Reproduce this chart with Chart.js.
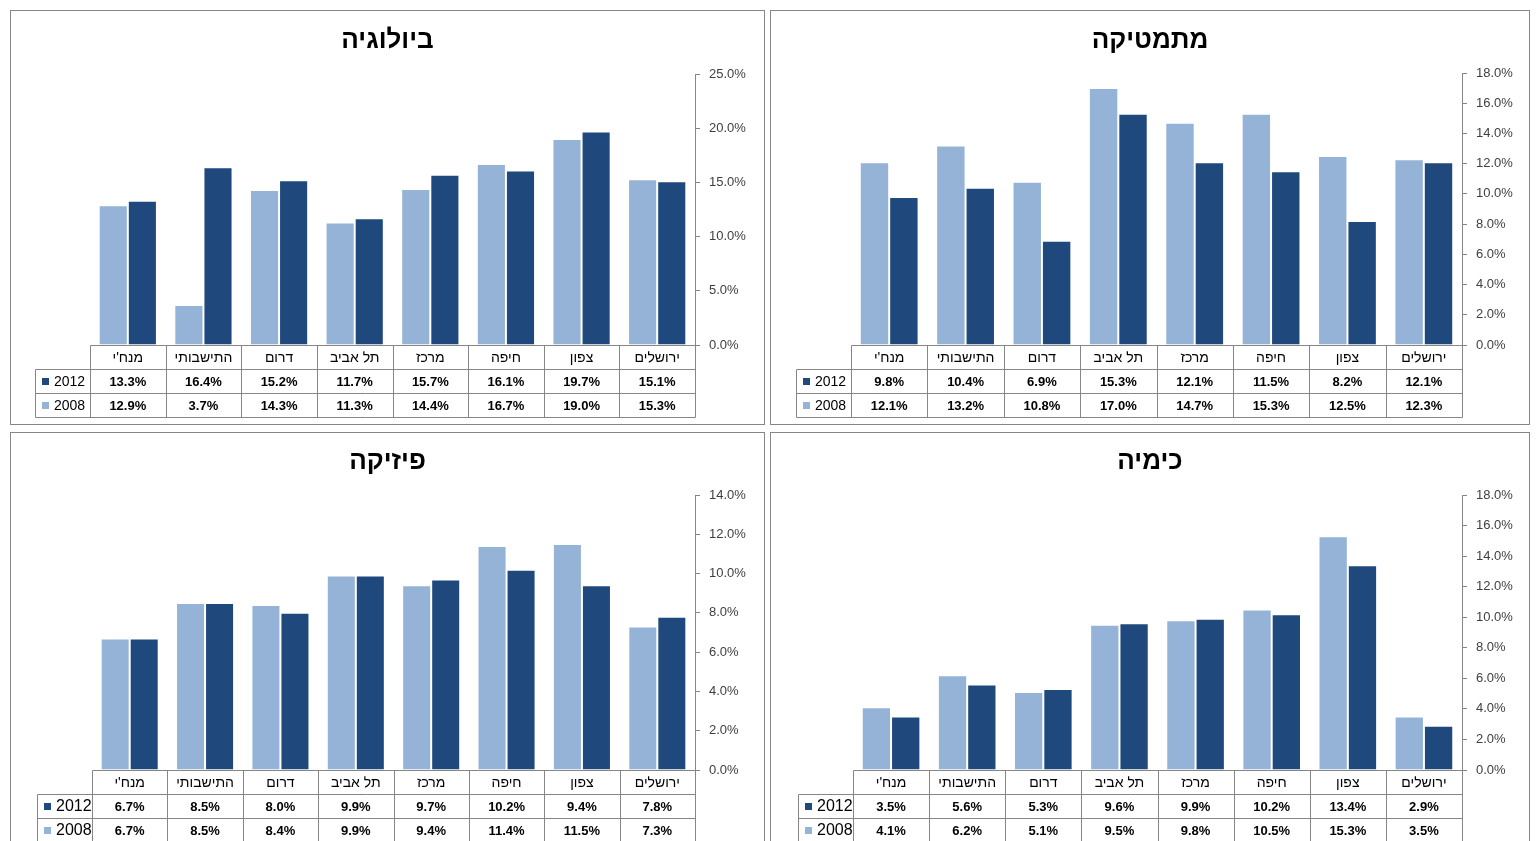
<!DOCTYPE html>
<html><head><meta charset="utf-8">
<script src="https://cdn.jsdelivr.net/npm/chart.js@4/dist/chart.umd.min.js"></script>
<style>
body{margin:0;background:#fff;width:1539px;height:841px;overflow:hidden;position:relative;font-family:'Liberation Sans',Arial,sans-serif}
.panel{position:absolute;border:1px solid #868686;box-sizing:border-box;background:#fff}
.panel canvas{position:absolute;left:0;top:0}
</style></head><body>
<div class="panel" style="left:10px;top:10px;width:755px;height:415px"><canvas id="c0" width="753" height="413"></canvas></div>
<div class="panel" style="left:770px;top:10px;width:760px;height:415px"><canvas id="c1" width="758" height="413"></canvas></div>
<div class="panel" style="left:10px;top:432px;width:755px;height:420px"><canvas id="c2" width="753" height="418"></canvas></div>
<div class="panel" style="left:770px;top:432px;width:760px;height:420px"><canvas id="c3" width="758" height="418"></canvas></div>
<script>
const categories = ["מנח'י","התישבותי","דרום","תל אביב","מרכז","חיפה","צפון","ירושלים"];
const years = ["2012","2008"];
const bio2012 = [13.3,16.4,15.2,11.7,15.7,16.1,19.7,15.1];
const bio2008 = [12.9,3.7,14.3,11.3,14.4,16.7,19.0,15.3];
const math2012 = [9.8,10.4,6.9,15.3,12.1,11.5,8.2,12.1];
const math2008 = [12.1,13.2,10.8,17.0,14.7,15.3,12.5,12.3];
const phys2012 = [6.7,8.5,8.0,9.9,9.7,10.2,9.4,7.8];
const phys2008 = [6.7,8.5,8.4,9.9,9.4,11.4,11.5,7.3];
const chem2012 = [3.5,5.6,5.3,9.6,9.9,10.2,13.4,2.9];
const chem2008 = [4.1,6.2,5.1,9.5,9.8,10.5,15.3,3.5];
const titles = ["ביולוגיה","מתמטיקה","פיזיקה","כימיה"];
const axisMax = [25,18,14,18];
const axisStep = [5,2,2,2];

const DARK = '#1F497D', LIGHT = '#95B3D7', LINE = '#868686';
const FONT = "'Liberation Sans', Arial, sans-serif";

const tablePlugin = {
  id: 'dtable',
  afterDraw(chart, args, opts) {
    const {ctx, chartArea: ca, scales: {x}} = chart;
    const n = chart.data.labels.length;
    const top = ca.bottom, rh = opts.rowH;
    const L = ca.left - opts.legendW;
    const px = v => Math.round(v) + 0.5;
    ctx.save();
    // title
    ctx.fillStyle = '#000';
    ctx.textAlign = 'center'; ctx.textBaseline = 'middle';
    ctx.font = 'bold 26px ' + FONT;
    ctx.fillText(opts.title, chart.width / 2, opts.titleY);
    // table grid
    ctx.strokeStyle = LINE; ctx.lineWidth = 1;
    const line = (x1, y1, x2, y2) => { ctx.beginPath(); ctx.moveTo(px(x1), px(y1)); ctx.lineTo(px(x2), px(y2)); ctx.stroke(); };
    line(ca.left, top, ca.right, top);
    for (let r = 1; r <= 3; r++) line(L, top + r * rh, ca.right, top + r * rh);
    for (let i = 0; i <= n; i++) {
      const b = ca.left + (ca.right - ca.left) * i / n;
      line(b, top, b, top + 3 * rh);
    }
    line(L, top + rh, L, top + 3 * rh);
    ctx.font = '14px ' + FONT;
    for (let i = 0; i < n; i++) ctx.fillText(chart.data.labels[i], x.getPixelForValue(i), top + rh / 2 + 1);
    ctx.font = 'bold 13px ' + FONT;
    opts.rows.forEach((row, r) => {
      const yc = top + rh * (r + 1.5) + 1;
      for (let i = 0; i < n; i++) ctx.fillText(row.data[i].toFixed(1) + '%', x.getPixelForValue(i), yc);
      ctx.fillStyle = row.color;
      ctx.fillRect(L + 7, Math.round(yc - 4), 7, 7);
      ctx.fillStyle = '#000';
      ctx.textAlign = 'left';
      ctx.font = opts.legendFont + ' ' + FONT;
      ctx.fillText(row.label, L + 19, yc);
      ctx.textAlign = 'center';
      ctx.font = 'bold 13px ' + FONT;
    });
    ctx.restore();
  }
};

function makeChart(id, idx, d2012, d2008, geo) {
  new Chart(document.getElementById(id), {
    type: 'bar',
    data: {
      labels: categories,
      datasets: [
        {label: years[1], data: d2008, backgroundColor: LIGHT, borderColor: 'rgba(255,255,255,0.9)', borderWidth: {left:1, top:1, right:1}, borderSkipped: 'bottom', categoryPercentage: 0.77, barPercentage: 1.0},
        {label: years[0], data: d2012, backgroundColor: DARK, borderColor: 'rgba(255,255,255,0.9)', borderWidth: {left:1, top:1, right:1}, borderSkipped: 'bottom', categoryPercentage: 0.77, barPercentage: 1.0}
      ]
    },
    options: {
      responsive: false,
      animation: false,
      layout: {padding: {left: geo.left, right: 0, top: geo.top, bottom: geo.bottom}},
      plugins: {
        legend: {display: false},
        tooltip: {enabled: false},
        title: {display: false},
        dtable: {title: titles[idx], titleY: geo.titleY, rowH: 24, legendW: 55, legendFont: geo.legendFont, rows: [
          {label: years[0], color: DARK, data: d2012},
          {label: years[1], color: LIGHT, data: d2008}
        ]}
      },
      scales: {
        x: {
          ticks: {display: false},
          grid: {display: false, drawTicks: false},
          border: {display: false},
          afterFit: s => { s.height = 72; }
        },
        y: {
          position: 'right',
          min: 0, max: axisMax[idx],
          ticks: {stepSize: axisStep[idx], color: '#404040', font: {size: 13, family: FONT}, padding: 9,
                  callback: v => v.toFixed(1) + '%'},
          grid: {display: true, drawOnChartArea: false, drawTicks: true, tickLength: 5, color: LINE},
          border: {display: true, color: LINE},
          afterFit: s => { s.width = geo.yW; }
        }
      }
    },
    plugins: [tablePlugin]
  });
}

makeChart('c0', 0, bio2012, bio2008, {left: 79, top: 63, bottom: 7, yW: 69, titleY: 30, legendFont: '14px'});
makeChart('c1', 1, math2012, math2008, {left: 80, top: 62, bottom: 7, yW: 67, titleY: 30, legendFont: '14px'});
makeChart('c2', 2, phys2012, phys2008, {left: 81, top: 62, bottom: 9, yW: 69, titleY: 29, legendFont: '16px'});
makeChart('c3', 3, chem2012, chem2008, {left: 82, top: 62, bottom: 9, yW: 67, titleY: 29, legendFont: '16px'});
</script>
</body></html>
